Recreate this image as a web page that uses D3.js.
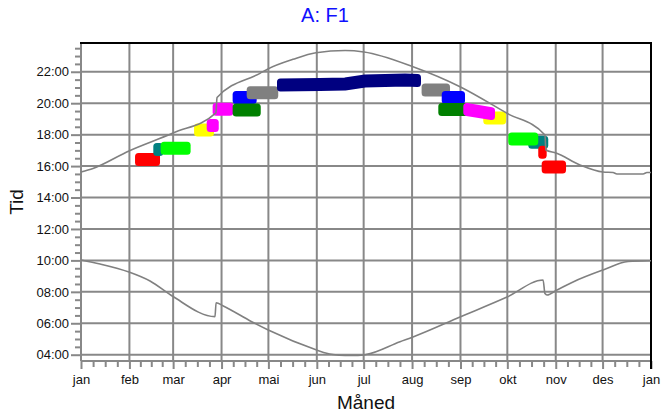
<!DOCTYPE html>
<html>
<head>
<meta charset="utf-8">
<script src="https://cdn.jsdelivr.net/npm/d3@7"></script>
<style>
    body { margin: 0; background: #fff; }
    text { font-family: Arial, "Liberation Sans", sans-serif; }
</style>
</head>
<body>
<svg id="chart"></svg>
<script>
const WIDTH = 661;
const HEIGHT = 414;
const PLOT = {left: 81, right: 651, top: 43, bottom: 361};
const GRID_COLOR = "#888888";
const CURVE_COLOR = "#808080";
const BLOCK_WIDTH = 13;
const BLOCK_RADIUS = 3.5;

// month labels and first day of each month (day of year)
const MONTHS = ["jan", "feb", "mar", "apr", "mai", "jun", "jul", "aug", "sep", "okt", "nov", "des", "jan"];
const MONTH_START = [0, 31, 59, 90, 120, 151, 181, 212, 243, 273, 304, 334, 365];
const HOUR_TICKS = [4, 6, 8, 10, 12, 14, 16, 18, 20, 22];

// upper curve (sunset), day of year -> hour
const SUNSET_DAY = [0, 7.7, 30.7, 58.9, 86.4, 87.1, 114.6, 119.7, 135.7, 150.5, 169.1, 181.2,
    212.6, 242.7, 272.8, 297.1, 297.7, 304.2, 319.5, 334.3, 340.7, 343.2, 359.9, 362.4, 365];
const SUNSET_HOUR = [15.62, 15.85, 16.96, 18.10, 19.38, 20.36, 21.90, 22.18, 22.79, 23.21, 23.35, 23.26,
    22.32, 21.05, 19.36, 17.98, 17.02, 16.83, 16.07, 15.62, 15.59, 15.50, 15.50, 15.59, 15.59];

// lower curve (sunrise)
const SUNRISE_DAY = [0, 12.2, 30.7, 44.2, 58.9, 85.8, 86.5, 91.1, 109.3, 119.9, 150.9, 157.3, 161.4,
    169.1, 177.4, 182.5, 204.3, 212.6, 242.7, 272.8, 295.9, 297.1, 298.4, 304.8, 315.1, 334.3, 350.3, 365];
const SUNRISE_HOUR = [10.03, 9.77, 9.26, 8.69, 7.70, 6.42, 7.31, 7.10, 6.10, 5.57, 4.30, 4.09, 4.01,
    3.95, 3.95, 4.01, 4.83, 5.13, 6.40, 7.67, 8.75, 7.89, 7.80, 8.12, 8.63, 9.39, 9.93, 9.98];

// coloured periods, drawn in this order
const BLOCK_COLOR = ["#ff0000", "#008080", "#00ff00", "#ffff00", "#ff00ff", "#ff00ff", "#0000ff", "#008000",
    "#808080", "#000080", "#808080", "#0000ff", "#008000", "#ffff00", "#ff00ff", "#008080", "#00ff00",
    "#ff0000", "#ff0000"];
const BLOCK_DAYS = [[34.6, 50.6], [46.3, 52.7], [51.0, 70.2], [72.4, 85.2], [80.5, 88.2], [84.3, 97.5],
    [97.1, 112.5], [97.1, 115.1], [106.1, 126.3], [125.5, 153.0, 169.1, 181.9, 207.5, 217.7],
    [218.1, 236.3], [231, 245.9], [228.8, 248], [257.6, 272.2], [244.8, 265.1], [286.4, 299.2],
    [273.6, 292.8], [292.8, 298.2], [295, 310.6]];
const BLOCK_HOURS = [[16.42, 16.42], [17.05, 17.05], [17.13, 17.13], [18.29, 18.29], [18.58, 18.58],
    [19.61, 19.61], [20.36, 20.36], [19.57, 19.57], [20.67, 20.67], [21.16, 21.19, 21.22, 21.41, 21.48, 21.44],
    [20.84, 20.84], [20.36, 20.36], [19.60, 19.60], [19.06, 19.06], [19.60, 19.34], [17.52, 17.52],
    [17.72, 17.72], [16.88, 16.88], [15.94, 15.94]];

const svg = d3.select("#chart")
    .attr("width", WIDTH)
    .attr("height", HEIGHT);

const x = d3.scaleLinear().domain([0, 365]).range([PLOT.left, PLOT.right]);
const y = d3.scaleLinear().domain([3.6, 23.83]).range([PLOT.bottom, PLOT.top]);

function fmtHour(h) {
    return (h < 10 ? "0" : "") + h + ":00";
}

function drawGrid() {
    const g = svg.append("g");
    g.selectAll(".vgrid").data(MONTH_START.slice(1, -1)).join("line")
        .attr("x1", d => x(d)).attr("x2", d => x(d))
        .attr("y1", PLOT.top).attr("y2", PLOT.bottom)
        .attr("stroke", GRID_COLOR).attr("stroke-width", 2);
    g.selectAll(".hgrid").data(HOUR_TICKS).join("line")
        .attr("x1", PLOT.left).attr("x2", PLOT.right)
        .attr("y1", d => y(d)).attr("y2", d => y(d))
        .attr("stroke", GRID_COLOR).attr("stroke-width", 2);
}

function drawAxes() {
    // minor ticks first so the labelled ones sit on top
    const halfHours = d3.range(4, 24, 0.5).filter(h => h % 2 !== 0 && h <= 23.5);
    svg.append("g")
        .attr("transform", `translate(${PLOT.left},0)`)
        .call(d3.axisLeft(y).tickValues(halfHours).tickSize(6).tickFormat(""))
        .call(g => g.select(".domain").remove())
        .call(g => g.selectAll("line").attr("stroke", GRID_COLOR).attr("stroke-width", 2));

    svg.append("g")
        .attr("transform", `translate(${PLOT.left},0)`)
        .call(d3.axisLeft(y).tickValues(HOUR_TICKS).tickSize(10).tickPadding(2).tickFormat(fmtHour))
        .call(g => g.select(".domain").remove())
        .call(g => g.selectAll("line").attr("stroke", GRID_COLOR).attr("stroke-width", 2))
        .call(g => g.selectAll("text").attr("font-size", 13).attr("fill", "#111")
            .attr("font-family", "Arial, 'Liberation Sans', sans-serif"));

    let quarterDays = [];
    for (let i = 0; i < 12; i++) {
        const len = MONTH_START[i + 1] - MONTH_START[i];
        quarterDays.push(MONTH_START[i] + len / 4, MONTH_START[i] + len / 2, MONTH_START[i] + 3 * len / 4);
    }
    svg.append("g")
        .attr("transform", `translate(0,${PLOT.bottom})`)
        .call(d3.axisBottom(x).tickValues(quarterDays).tickSize(6).tickFormat(""))
        .call(g => g.select(".domain").remove())
        .call(g => g.selectAll("line").attr("stroke", GRID_COLOR).attr("stroke-width", 2));

    svg.append("g")
        .attr("transform", `translate(0,${PLOT.bottom})`)
        .call(d3.axisBottom(x).tickValues(MONTH_START).tickSize(8).tickPadding(6)
            .tickFormat((d, i) => MONTHS[i]))
        .call(g => g.select(".domain").remove())
        .call(g => g.selectAll("line").attr("stroke", GRID_COLOR).attr("stroke-width", 2))
        .call(g => g.selectAll("text").attr("font-size", 13).attr("fill", "#111")
            .attr("font-family", "Arial, 'Liberation Sans', sans-serif"));

    // frame: grey axis lines left/bottom, black border top/right
    svg.append("line").attr("x1", PLOT.left).attr("x2", PLOT.left)
        .attr("y1", PLOT.top).attr("y2", PLOT.bottom)
        .attr("stroke", GRID_COLOR).attr("stroke-width", 2);
    svg.append("line").attr("x1", PLOT.left).attr("x2", PLOT.right)
        .attr("y1", PLOT.bottom).attr("y2", PLOT.bottom)
        .attr("stroke", GRID_COLOR).attr("stroke-width", 2);
    svg.append("line").attr("x1", PLOT.left - 1).attr("x2", PLOT.right + 1)
        .attr("y1", PLOT.top).attr("y2", PLOT.top)
        .attr("stroke", "#000").attr("stroke-width", 2);
    svg.append("line").attr("x1", PLOT.right).attr("x2", PLOT.right)
        .attr("y1", PLOT.top).attr("y2", PLOT.bottom + 8)
        .attr("stroke", "#000").attr("stroke-width", 2);
}

// rounded band around the block's centre line: outline inset by the radius,
// then stroked with 2*radius and round joins
function blockPath(pts) {
    const half = BLOCK_WIDTH / 2 - BLOCK_RADIUS;
    const n = pts.length;
    const inset = i => (i === 0 ? BLOCK_RADIUS : i === n - 1 ? -BLOCK_RADIUS : 0);
    const top = pts.map((p, i) => [x(p[0]) + inset(i), y(p[1]) - half]);
    const bottom = pts.map((p, i) => [x(p[0]) + inset(i), y(p[1]) + half]).reverse();
    return "M" + top.concat(bottom).map(p => p.join(",")).join("L") + "Z";
}

function drawBlocks() {
    svg.append("g").selectAll("path")
        .data(BLOCK_COLOR.map((c, i) => ({color: c, pts: d3.zip(BLOCK_DAYS[i], BLOCK_HOURS[i])})))
        .join("path")
        .attr("d", d => blockPath(d.pts))
        .attr("fill", d => d.color)
        .attr("stroke", d => d.color)
        .attr("stroke-width", 2 * BLOCK_RADIUS)
        .attr("stroke-linejoin", "round");
}

function drawCurves() {
    const line = d3.line().x(d => x(d[0])).y(d => y(d[1])).curve(d3.curveMonotoneX);
    [[SUNSET_DAY, SUNSET_HOUR], [SUNRISE_DAY, SUNRISE_HOUR]].forEach(([days, hours]) => {
        svg.append("path")
            .attr("d", line(d3.zip(days, hours)))
            .attr("fill", "none")
            .attr("stroke", CURVE_COLOR)
            .attr("stroke-width", 1.6);
    });
}

function drawTitles() {
    svg.append("text")
        .attr("x", 325).attr("y", 22)
        .attr("text-anchor", "middle")
        .attr("font-size", 20)
        .attr("fill", "#1010ff")
        .text("A: F1");
    svg.append("text")
        .attr("x", (PLOT.left + PLOT.right) / 2).attr("y", 409)
        .attr("text-anchor", "middle")
        .attr("font-size", 19)
        .attr("fill", "#111")
        .text("Måned");
    svg.append("text")
        .attr("transform", `translate(23,${(PLOT.top + PLOT.bottom) / 2}) rotate(-90)`)
        .attr("text-anchor", "middle")
        .attr("font-size", 19)
        .attr("fill", "#111")
        .text("Tid");
}

svg.append("rect").attr("width", WIDTH).attr("height", HEIGHT).attr("fill", "#fff");
drawGrid();
drawBlocks();
drawAxes();
drawCurves();
drawTitles();
</script>
</body>
</html>
